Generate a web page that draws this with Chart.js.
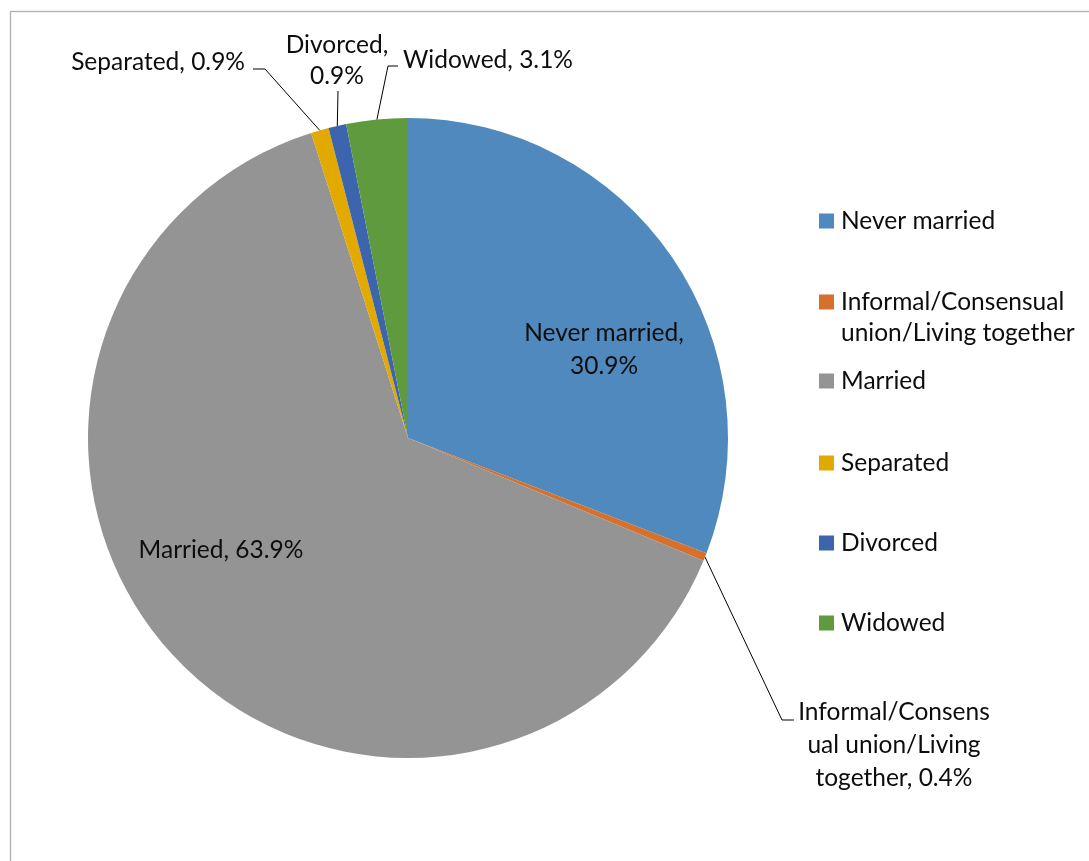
<!DOCTYPE html>
<html>
<head>
<meta charset="utf-8">
<script src="https://cdn.jsdelivr.net/npm/chart.js@4.4.1/dist/chart.umd.min.js"></script>
<style>
  html, body { margin: 0; padding: 0; background: #ffffff; }
  #wrap { width: 1089px; height: 861px; position: relative; }
</style>
</head>
<body>
<div id="wrap"><canvas id="c" width="1089" height="861"></canvas></div>
<script>
// ---- data ----
const categories = ['Never married', 'Informal/Consensual union/Living together', 'Married', 'Separated', 'Divorced', 'Widowed'];
const values = [30.9, 0.4, 63.9, 0.9, 0.9, 3.1];
const sliceColors = ['#4F89BE', '#D6712D', '#949494', '#E2AA00', '#3D65AE', '#609A3E'];
const legendLines = [['Never married'], ['Informal/Consensual', 'union/Living together'], ['Married'], ['Separated'], ['Divorced'], ['Widowed']];
const dataLabelLines = [['Never married,', '30.9%'], ['Informal/Consens', 'ual union/Living', 'together, 0.4%'], ['Married, 63.9%'], ['Separated, 0.9%'], ['Divorced,', '0.9%'], ['Widowed, 3.1%']];

const FONT = '24.5px Lato';
const TEXT_COLOR = '#0d0d0d';

// label placement (layout only)
const labelLayout = [
  { x: 604, y: 333, align: 'center', lh: 33 },
  { x: 894, y: 712, align: 'center', lh: 33, elbow: [782, 720], end: [794, 720] },
  { x: 221, y: 550, align: 'center', lh: 33 },
  { x: 245, y: 62, align: 'right', lh: 33, elbow: [265, 69], end: [253, 69] },
  { x: 337, y: 45, align: 'center', lh: 31, elbow: [338, 91], end: [338, 91] },
  { x: 403, y: 60, align: 'left', lh: 33, elbow: [388, 66], end: [398, 66] }
];
const legendLayout = { boxX: 819, textX: 841, box: 15, ys: [221, 302, 381, 463, 543, 623], lh: 31 };

const framePlugin = {
  id: 'frame',
  beforeDraw(chart) {
    const ctx = chart.ctx;
    ctx.save();
    ctx.fillStyle = '#ffffff';
    ctx.fillRect(0, 0, chart.width, chart.height);
    ctx.strokeStyle = '#b0b0b0';
    ctx.lineWidth = 1.3;
    ctx.strokeRect(10.5, 11.5, 1200, 1000);
    ctx.restore();
  }
};

const labelPlugin = {
  id: 'pieLabels',
  afterDatasetsDraw(chart) {
    const ctx = chart.ctx;
    const meta = chart.getDatasetMeta(0);
    ctx.save();
    ctx.font = FONT;
    ctx.fillStyle = TEXT_COLOR;
    ctx.textBaseline = 'middle';
    meta.data.forEach((arc, i) => {
      const L = labelLayout[i];
      if (L.elbow) {
        const mid = (arc.startAngle + arc.endAngle) / 2;
        const sx = arc.x + arc.outerRadius * Math.cos(mid);
        const sy = arc.y + arc.outerRadius * Math.sin(mid);
        ctx.strokeStyle = '#000000';
        ctx.lineWidth = 1;
        ctx.beginPath();
        ctx.moveTo(sx, sy);
        ctx.lineTo(L.elbow[0], L.elbow[1]);
        ctx.lineTo(L.end[0], L.end[1]);
        ctx.stroke();
      }
      ctx.textAlign = L.align;
      dataLabelLines[i].forEach((t, k) => {
        ctx.fillText(t, L.x, L.y + k * L.lh);
      });
    });
    // legend
    ctx.textAlign = 'left';
    categories.forEach((c, i) => {
      const y = legendLayout.ys[i];
      ctx.fillStyle = sliceColors[i];
      ctx.fillRect(legendLayout.boxX, y - legendLayout.box / 2, legendLayout.box, legendLayout.box);
      ctx.fillStyle = TEXT_COLOR;
      legendLines[i].forEach((t, k) => {
        ctx.fillText(t, legendLayout.textX, y + k * legendLayout.lh);
      });
    });
    ctx.restore();
  }
};

new Chart(document.getElementById('c'), {
  type: 'pie',
  data: {
    labels: categories,
    datasets: [{
      data: values,
      backgroundColor: sliceColors,
      borderWidth: 0,
      hoverOffset: 0
    }]
  },
  options: {
    responsive: false,
    animation: false,
    rotation: 0,
    layout: { padding: { left: 88, right: 361, top: 118, bottom: 103 } },
    plugins: {
      legend: { display: false },
      tooltip: { enabled: false }
    }
  },
  plugins: [framePlugin, labelPlugin]
});
</script>
</body>
</html>
